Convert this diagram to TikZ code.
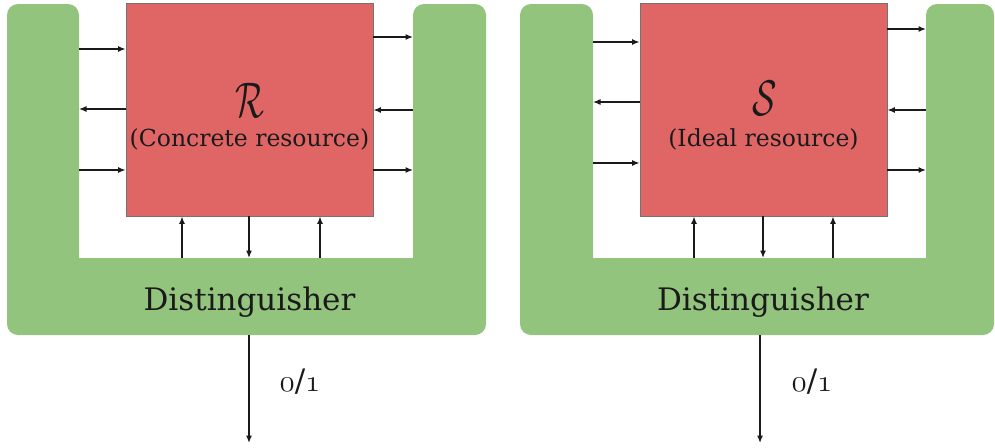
\RequirePackage{fix-cm}
\documentclass[tikz,border=0pt]{standalone}
\usepackage{fontspec}
\setmainfont{DejaVu Serif}
\usetikzlibrary{arrows.meta}
% old-style digits taken from the Computer Modern math italic font
\newcommand\olddigits[1]{{\fontencoding{OML}\fontfamily{cmm}\fontseries{m}\fontshape{it}\selectfont #1}}
\definecolor{distgreen}{HTML}{93C47D}
\definecolor{resred}{HTML}{E06666}
\definecolor{inkdark}{HTML}{1A1A1A}
\tikzset{
  resbox/.style={draw=black!55, line width=0.8pt, fill=resred, minimum width=247pt, minimum height=213pt, inner sep=0pt},
  arr/.style={-{Latex[length=7.5pt,width=6pt]}, line width=1.3pt, draw=inkdark},
  distfill/.style={fill=distgreen},
  bigsym/.style={font=\fontsize{50}{54}\selectfont, text=inkdark},
  reslabel/.style={font=\fontsize{23.5}{27}\selectfont, text=inkdark},
  distlabel/.style={font=\fontsize{31}{34}\selectfont, text=inkdark, anchor=base},
  outlabel/.style={font=\fontsize{31}{34}\selectfont, text=inkdark},
}
\begin{document}
\begin{tikzpicture}[x=1pt, y=-1pt]
\useasboundingbox (0,0) rectangle (995,447);

% ---------- left panel: concrete resource ----------
\fill[distfill] (79,258) [rounded corners=11pt] -- (79,4) -- (7,4) -- (7,335) -- (486,335) -- (486,4) -- (413,4) [sharp corners] -- (413,258) -- cycle;
\node[resbox] (R) at (249.5,109.5) {};
\node[bigsym] (Rsym) at (249.5,100) {\scalebox{0.68}[1]{$\mathcal{R}$}};
\node[reslabel] (Rtxt) at (249.5,139) {(Concrete resource)};
\node[distlabel] (Dl) at (249.5,310) {Distinguisher};

\coordinate (la1) at (79,49);
\coordinate (la2) at (79,109);
\coordinate (la3) at (79,170);
\coordinate (ra1) at (413,37);
\coordinate (ra2) at (413,110);
\coordinate (ra3) at (413,170);
\coordinate (ba1) at (182,258);
\coordinate (ba2) at (249,258);
\coordinate (ba3) at (320,258);
\coordinate (lout0) at (249,335);
\coordinate (lout1) at (249,443);

\draw[arr] (la1) -- (R.west |- la1);
\draw[arr] (R.west |- la2) -- (la2);
\draw[arr] (la3) -- (R.west |- la3);
\draw[arr] (R.east |- ra1) -- (ra1);
\draw[arr] (ra2) -- (R.east |- ra2);
\draw[arr] (R.east |- ra3) -- (ra3);
\draw[arr] (ba1) -- (R.south -| ba1);
\draw[arr] (R.south -| ba2) -- (ba2);
\draw[arr] (ba3) -- (R.south -| ba3);
\draw[arr] (lout0) -- (lout1);
\node[outlabel] (lbit) at (300,382) {\olddigits{0}/\olddigits{1}};

% ---------- right panel: ideal resource ----------
\fill[distfill] (593,258) [rounded corners=11pt] -- (593,4) -- (520,4) -- (520,335) -- (994,335) -- (994,4) -- (926,4) [sharp corners] -- (926,258) -- cycle;
\node[resbox] (S) at (763.5,109.5) {};
\node[bigsym] (Ssym) at (764.5,98) {\scalebox{0.72}[1]{$\mathcal{S}$}};
\node[reslabel] (Stxt) at (763.5,139) {(Ideal resource)};
\node[distlabel] (Dr) at (763,310) {Distinguisher};

\coordinate (sla1) at (593,42);
\coordinate (sla2) at (593,102);
\coordinate (sla3) at (593,163);
\coordinate (sra1) at (926,29);
\coordinate (sra2) at (926,110);
\coordinate (sra3) at (926,170);
\coordinate (sba1) at (694,258);
\coordinate (sba2) at (763,258);
\coordinate (sba3) at (833,258);
\coordinate (rout0) at (760,335);
\coordinate (rout1) at (760,443);

\draw[arr] (sla1) -- (S.west |- sla1);
\draw[arr] (S.west |- sla2) -- (sla2);
\draw[arr] (sla3) -- (S.west |- sla3);
\draw[arr] (S.east |- sra1) -- (sra1);
\draw[arr] (sra2) -- (S.east |- sra2);
\draw[arr] (S.east |- sra3) -- (sra3);
\draw[arr] (sba1) -- (S.south -| sba1);
\draw[arr] (S.south -| sba2) -- (sba2);
\draw[arr] (sba3) -- (S.south -| sba3);
\draw[arr] (rout0) -- (rout1);
\node[outlabel] (rbit) at (812,382) {\olddigits{0}/\olddigits{1}};
\end{tikzpicture}
\end{document}
